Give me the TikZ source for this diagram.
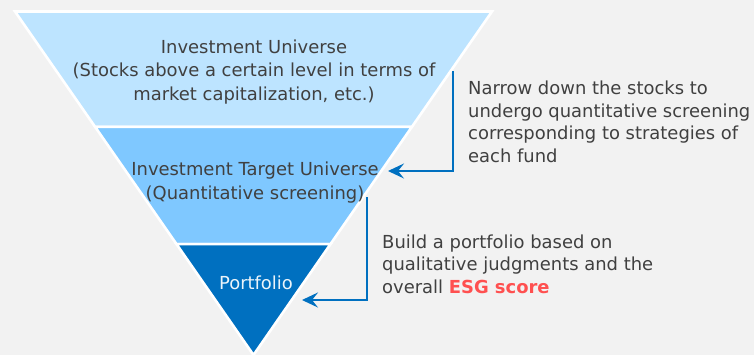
\documentclass[tikz,border=0pt]{standalone}
\usepackage{fontspec}
\setmainfont{DejaVu Sans}
\usetikzlibrary{calc,arrows.meta}
\definecolor{bg}{HTML}{F2F2F2}
\definecolor{layerA}{HTML}{BDE4FF}
\definecolor{layerB}{HTML}{7FC8FF}
\definecolor{layerC}{HTML}{0070C0}
\definecolor{txt}{HTML}{404040}
\definecolor{esg}{HTML}{FF5050}
\tikzset{
  layer/.style={draw=white,line width=2.6bp,line join=miter},
  label/.style={text=txt,font=\fontsize{18}{24}\selectfont,align=center,inner sep=0pt},
  note/.style={text=txt,font=\fontsize{18}{22.5}\selectfont,align=left,anchor=north west,inner sep=0pt},
  flow/.style={draw=layerC,line width=2bp,-{Stealth[length=16bp,width=15bp,inset=6bp]}},
}
\begin{document}
\begin{tikzpicture}[x=1bp,y=-1bp]
\useasboundingbox (0,0) rectangle (754,355);
\fill[bg] (0,0) rectangle (754,355);
% funnel corners
\coordinate (L) at (15,11.5);
\coordinate (R) at (492,11.5);
\coordinate (A) at (253.5,355);
\coordinate (L1) at ($(L)!0.336!(A)$);
\coordinate (R1) at ($(R)!0.336!(A)$);
\coordinate (L2) at ($(L)!0.677!(A)$);
\coordinate (R2) at ($(R)!0.677!(A)$);
% three layers of the funnel
\begin{scope}
\clip (0,0) rectangle (754,355);
\filldraw[layer,fill=layerA] (L) -- (R) -- (R1) -- (L1) -- cycle;
\filldraw[layer,fill=layerB] (L1) -- (R1) -- (R2) -- (L2) -- cycle;
\filldraw[layer,fill=layerC] (L2) -- (R2) -- (A) -- cycle;
\end{scope}
% layer labels
\node[label] (univ) at (254,72) {Investment Universe\\(Stocks above a certain level in terms of\\market capitalization, etc.)};
\node[label] (target) at (255,183) {Investment Target Universe\\(Quantitative screening)};
\node[label,text=white!92!layerC] (port) at (256,283) {Portfolio};
% side notes
\node[note] (note1) at (468,81) {Narrow down the stocks to\\undergo quantitative screening\\corresponding to strategies of\\each fund};
\node[note] (note2) at (382,234.5) {Build a portfolio based on\\qualitative judgments and the\\overall \textbf{\color{esg}ESG score}};
% connectors
\coordinate (s1) at (453,71);
\coordinate (e1) at (388,171);
\coordinate (s2) at (367,197);
\coordinate (e2) at (302,300);
\draw[flow] (s1) |- (e1);
\draw[flow] (s2) |- (e2);
\end{tikzpicture}
\end{document}
